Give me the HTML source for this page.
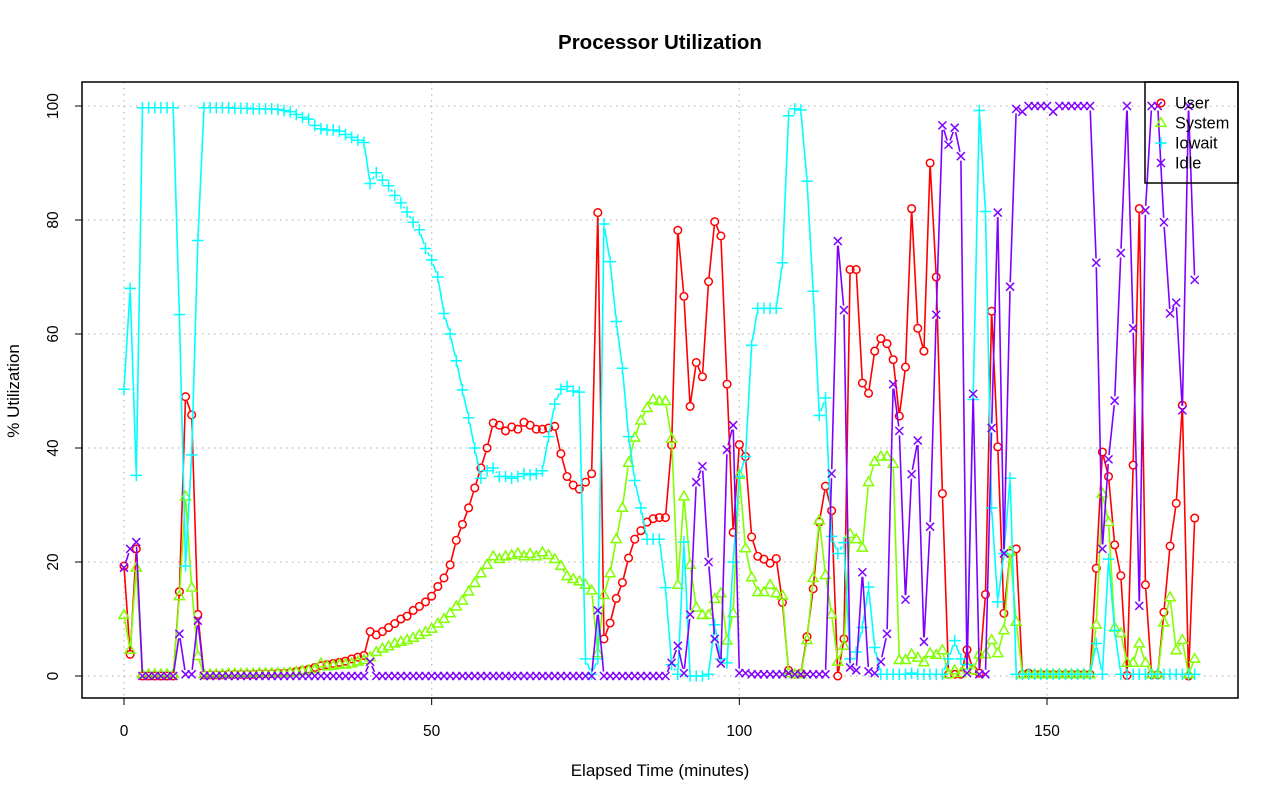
<!DOCTYPE html>
<html><head><meta charset="utf-8"><style>
body{margin:0;background:#fff}
svg{display:block;font-family:"Liberation Sans",sans-serif}
</style></head><body>
<svg id="chart" width="1280" height="801" viewBox="0 0 1280 801">
<rect x="0" y="0" width="1280" height="801" fill="#fff"/>
<text x="660" y="49" text-anchor="middle" font-size="20.5" font-weight="bold">Processor Utilization</text>
<text x="660" y="776" text-anchor="middle" font-size="17">Elapsed Time (minutes)</text>
<text x="19" y="391" text-anchor="middle" font-size="17" transform="rotate(-90 19 391)">% Utilization</text>
<g id="grid"></g>
<g id="series"></g>
<rect x="82" y="82" width="1156" height="616" fill="none" stroke="#000" stroke-width="1.5"/>
<g id="axes"></g>
<g id="legend"></g>
</svg>
<script>
const xTicks=[0,50,100,150];
const yTicks=[0,20,40,60,80,100];
const seriesNames=["User","System","Iowait","Idle"];
const user=[19.3,3.8,22.3,0,0,0,0,0,0,14.8,49,45.8,10.8,0.2,0.2,0.2,0.2,0.3,0.3,0.3,0.3,0.3,0.4,0.4,0.4,0.5,0.5,0.6,0.8,1,1.2,1.5,1.8,2,2.2,2.4,2.6,3,3.3,3.6,7.8,7.2,7.8,8.5,9.2,10,10.5,11.5,12.2,13,14,15.7,17.2,19.5,23.8,26.6,29.5,33,36.5,40,44.4,44,43,43.7,43.3,44.5,44,43.3,43.3,43.5,43.8,39,35,33.5,32.8,34,35.5,81.3,6.5,9.3,13.6,16.4,20.7,24,25.5,27,27.6,27.8,27.8,40.5,78.2,66.6,47.3,55,52.5,69.2,79.7,77.2,51.2,25.2,40.6,38.5,24.4,21,20.5,19.8,20.6,12.9,1,0.3,0.5,6.9,15.3,27,33.3,29,0,6.5,71.3,71.3,51.4,49.6,57,59.2,58.3,55.5,45.6,54.2,82,61,57,90,70,32,0.3,0.3,0.3,4.6,1,0.5,14.3,64,40.2,11,21.5,22.3,0.3,0.5,0.3,0.3,0.3,0.3,0.3,0.3,0.3,0.3,0.3,0.3,18.9,39.3,35,23,17.6,0.1,37,82,16,0.2,0.2,11.2,22.8,30.3,47.5,0,27.7];
const system=[10.7,4.6,19,0.3,0.3,0.3,0.3,0.3,0.3,14,31.5,15.5,3.5,0.3,0.3,0.3,0.3,0.4,0.4,0.4,0.4,0.4,0.5,0.5,0.5,0.5,0.5,0.6,0.7,0.9,1,1.2,2.2,1.7,1.8,2,2,2.2,2.5,2.8,3.3,4.2,4.8,5.2,5.7,6,6.3,6.7,7.2,7.7,8.3,9.2,10,11,12.2,13.2,14.8,16.3,18,19.5,21,20.5,21,21.2,21.5,21,21.4,21,21.7,21.2,20.5,19.3,17.5,17,16.6,16,15,4,14.2,18,24,29.5,37.4,41.8,44.8,47,48.5,48.2,48.2,41.6,16,31.5,19.5,12,10.7,10.7,13.5,14.5,6.2,11,35.3,22.4,17.3,14.7,14.7,16,14.5,14.1,0.5,0.3,0.3,6.3,17.2,27.3,17.7,10.8,2.5,5.3,24.9,24,22.5,34,37.6,38.5,38.5,37.2,2.8,2.8,3.8,3.2,2.4,4,3.7,4.5,0.3,1,0.5,1.8,1,3.8,3.8,6.3,4,8,21.8,9.5,0.3,0.3,0.3,0.3,0.3,0.3,0.3,0.3,0.3,0.3,0.3,0.3,9,32,27,8.5,7.5,2.3,2.3,5.7,2.3,0.3,0.3,9.4,13.8,4.5,6.3,0.3,3];
const iowait=[50.3,68,35.2,99.7,99.7,99.7,99.7,99.7,99.7,63.4,19.3,38.8,76.4,99.7,99.7,99.7,99.7,99.7,99.6,99.6,99.6,99.5,99.5,99.5,99.5,99.4,99.2,99,98.5,98,97.7,96.6,96,95.8,95.8,95.6,95,94.5,94,93.6,86.4,88.3,87,86,84.3,83,81.4,79.6,78.3,75,73,70,63.6,60,55.3,50.2,45.3,40,34.7,36,36.5,35,35,34.7,35,35.5,35.3,35.5,36,42,47.7,50.3,50.8,50,49.8,3,0.3,3,79.3,72.7,62.2,54,42,34.3,29.5,24,24,24,15.5,2,0.3,23.5,0,0,0,0.3,9,3,2.3,20,35,38.5,58,64.5,64.5,64.5,64.5,72.5,98.3,99.5,99.3,86.8,67.5,45.7,48.8,24.5,21.5,23.4,3,4.2,8.5,15.6,5,0.3,0.3,0.3,0.3,0.3,0.5,0.3,0.3,0.3,0.3,0.3,3,6.2,3,2,48.5,99.2,81.5,29.5,13,21.5,34.7,0.3,0.3,0.3,0.3,0.3,0.3,0.3,0.3,0.3,0.3,0.3,0.3,0.3,5.7,0.3,20.5,8,0.3,0.3,0.3,0.3,0.3,0.3,0.3,0.3,0.3,0.3,0.3,0.3,0.3];
const idle=[19,22.3,23.5,0,0,0,0,0,0,7.4,0.3,0.3,9.7,0,0,0,0,0,0,0,0,0,0,0,0,0,0,0,0,0,0,0,0,0,0,0,0,0,0,0,2.5,0,0,0,0,0,0,0,0,0,0,0,0,0,0,0,0,0,0,0,0,0,0,0,0,0,0,0,0,0,0,0,0,0,0,0,0,11.5,0,0,0,0,0,0,0,0,0,0,0,2.3,5.3,0.5,10.8,34,36.8,20,6.5,2.2,39.7,44,0.5,0.5,0.3,0.3,0.3,0.3,0.3,0.3,0.5,0.3,0.3,0.3,0.3,0.3,0.3,35.5,76.3,64.2,1.5,1,18.2,0.8,0.5,2.5,7.4,51.2,43,13.4,35.4,41.3,6,26.2,63.4,96.6,93.2,96.2,91.2,0.5,49.5,0.3,0.3,43.5,81.3,21.5,68.3,99.5,99,100,100,100,100,99,100,100,100,100,100,100,72.5,22.3,38,48.3,74.2,100,61,12.3,81.7,100,100,79.6,63.6,65.5,46.6,100,69.5];

const NS="http://www.w3.org/2000/svg";
const X=v=>124+v*(923/150);
const Y=v=>676-v*5.7;
function mk(tag,attrs,parent){const e=document.createElementNS(NS,tag);for(const k in attrs)e.setAttribute(k,attrs[k]);parent.appendChild(e);return e;}
const grid=document.getElementById('grid'),axes=document.getElementById('axes'),ser=document.getElementById('series'),leg=document.getElementById('legend');

xTicks.forEach(t=>{
  const g=mk('line',{x1:X(t),x2:X(t),y1:82,y2:698,stroke:'#bbb','stroke-dasharray':'1.5 4.5','stroke-width':1.2},grid);
  
  
  const tk=mk('line',{x1:X(t),x2:X(t),y1:698,y2:705,stroke:'#000'},axes);
  
  
  const tl=mk('text',{x:X(t),y:736,'text-anchor':'middle','font-size':15.5},axes);
  tl.textContent=t;
  
  
});
yTicks.forEach(t=>{
  const g=mk('line',{x1:82,x2:1238,y1:Y(t),y2:Y(t),stroke:'#bbb','stroke-dasharray':'1.5 4.5','stroke-width':1.2},grid);
  
  
  const tk=mk('line',{x1:75,x2:82,y1:Y(t),y2:Y(t),stroke:'#000'},axes);
  
  
  const tl=mk('text',{x:58,y:Y(t),'text-anchor':'middle','font-size':15.5,transform:`rotate(-90 58 ${Y(t)})`},axes);
  tl.textContent=t;
  
  
});

const colors=['#ff0000','#80ff00','#00ffff','#8000ff'];
const data=[user,system,iowait,idle];
function marker(type,x,y,c,parent){
  let e;
  if(type===0)e=mk('circle',{cx:x,cy:y,r:3.8,fill:'none',stroke:c,'stroke-width':1.5},parent);
  else if(type===1)e=mk('polygon',{points:`${x},${y-5.3} ${x-5},${y+3.4} ${x+5},${y+3.4}`,fill:'none',stroke:c,'stroke-width':1.5},parent);
  else if(type===2)e=mk('path',{d:`M${x-5.8},${y}H${x+5.8}M${x},${y-5.8}V${y+5.8}`,stroke:c,'stroke-width':1.5},parent);
  else e=mk('path',{d:`M${x-4},${y-4}L${x+4},${y+4}M${x-4},${y+4}L${x+4},${y-4}`,stroke:c,'stroke-width':1.5},parent);
  return e;
}
data.forEach((arr,s)=>{
  const g=mk('g',{},ser);
  
  
  let d='';
  for(let i=0;i<arr.length-1;i++){
    const x1=X(i),y1=Y(arr[i]),x2=X(i+1),y2=Y(arr[i+1]);
    const L=Math.hypot(x2-x1,y2-y1),gap=4.5;
    if(L>2*gap){const ux=(x2-x1)/L,uy=(y2-y1)/L;
      d+=`M${x1+ux*gap},${y1+uy*gap}L${x2-ux*gap},${y2-uy*gap}`;}
  }
  const p=mk('path',{d:d,stroke:colors[s],'stroke-width':1.6,fill:'none'},g);
  
  
  arr.forEach((v,i)=>{
    const m=marker(s,X(i),Y(v),colors[s],g);
    
    
  });
});

const lb=mk('rect',{x:1145,y:82,width:93,height:101,fill:'none',stroke:'#000','stroke-width':1.5},leg);


seriesNames.forEach((n,s)=>{
  const y=103+s*20;
  const g=mk('g',{},leg);
  
  
  marker(s,1161,y,colors[s],g);
  const t=mk('text',{x:1175,y:y+5.5,'font-size':16.3},g);
  t.textContent=n;
});
</script>
</body></html>
